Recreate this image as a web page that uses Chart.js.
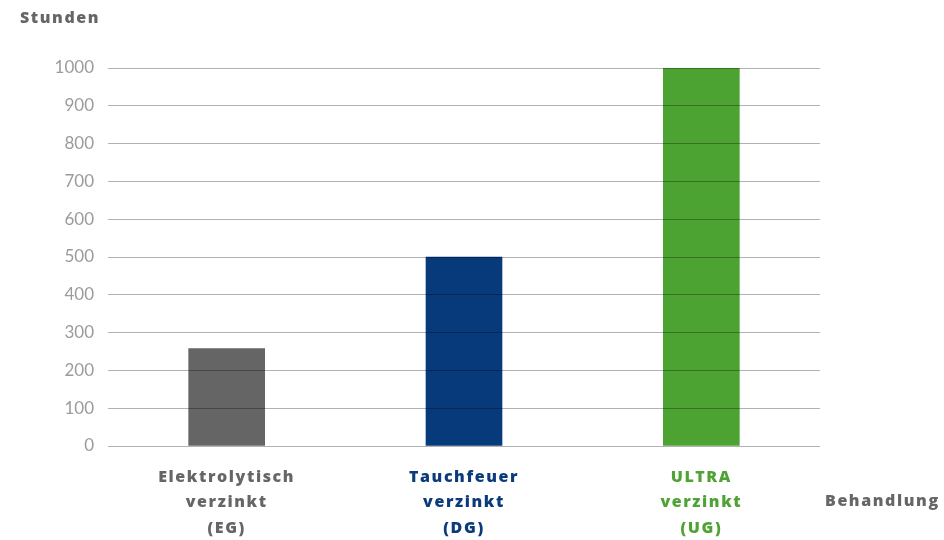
<!DOCTYPE html>
<html>
<head>
<meta charset="utf-8">
<style>
  html, body { margin: 0; padding: 0; background: #ffffff; }
  #wrap { width: 944px; height: 540px; position: relative; }
</style>
<script src="https://cdn.jsdelivr.net/npm/chart.js@4.4.1/dist/chart.umd.min.js"></script>
</head>
<body>
<div id="wrap"><canvas id="c"></canvas></div>
<script>
const categories = [
  ["Elektrolytisch", "verzinkt", "(EG)"],
  ["Tauchfeuer", "verzinkt", "(DG)"],
  ["ULTRA", "verzinkt", "(UG)"]
];
const hours = [258, 500, 1000];
const barColors = ["#656565", "#073a7b", "#4da332"];
const labelColors = ["#666666", "#0b3b7b", "#4ea334"];
const yTitle = "Stunden";
const xTitle = "Behandlung";
const yMin = 0, yMax = 1000, yStep = 100;

const BOLD_FONT = "'Open Sans', 'DejaVu Sans', sans-serif";
const TICK_FONT = "Lato, 'Open Sans', sans-serif";

function wrapLabels(scale, spacing) {
  if (scale._lsWrapped) return;
  const orig = scale.drawLabels;
  scale.drawLabels = function (area) {
    this.ctx.save();
    this.ctx.letterSpacing = spacing;
    orig.call(this, area);
    this.ctx.restore();
  };
  scale._lsWrapped = true;
}

const titlesPlugin = {
  id: 'titles',
  afterDraw(chart) {
    const ctx = chart.ctx;
    const area = chart.chartArea;
    ctx.save();
    ctx.letterSpacing = '1.6px';
    ctx.fillStyle = '#666666';
    ctx.font = "800 16px " + BOLD_FONT;
    ctx.textBaseline = 'middle';
    ctx.textAlign = 'left';
    ctx.fillText(yTitle, 20, area.top - 50);
    ctx.fillText(xTitle, area.right + 5, area.bottom + 55);
    ctx.restore();
  }
};

new Chart(document.getElementById('c'), {
  type: 'bar',
  data: {
    labels: categories,
    datasets: [{
      data: hours,
      backgroundColor: barColors,
      borderWidth: 0,
      barThickness: 76
    }]
  },
  options: {
    responsive: true,
    maintainAspectRatio: false,
    animation: false,
    layout: { padding: { top: 68, right: 124, left: 0, bottom: 0 } },
    plugins: { legend: { display: false }, tooltip: { enabled: false }, title: { display: false } },
    scales: {
      x: {
        grid: { display: false, drawTicks: false },
        border: { display: false },
        ticks: {
          color: (ctx) => labelColors[ctx.index],
          font: { family: BOLD_FONT, size: 16, weight: 800, lineHeight: 1.62 },
          padding: 18,
          maxRotation: 0,
          autoSkip: false
        },
        afterFit(scale) { scale.height = 94; wrapLabels(scale, '1.6px'); }
      },
      y: {
        min: yMin,
        max: yMax,
        grid: { color: 'rgba(0,0,0,0.3)', lineWidth: 1, drawTicks: false, z: 1 },
        border: { display: false },
        ticks: {
          stepSize: yStep,
          color: '#9b9b9b',
          font: { family: TICK_FONT, size: 17 },
          padding: 14,
          callback: (v) => String(v)
        },
        afterFit(scale) { scale.width = 108; }
      }
    }
  },
  plugins: [titlesPlugin]
});
</script>
</body>
</html>
